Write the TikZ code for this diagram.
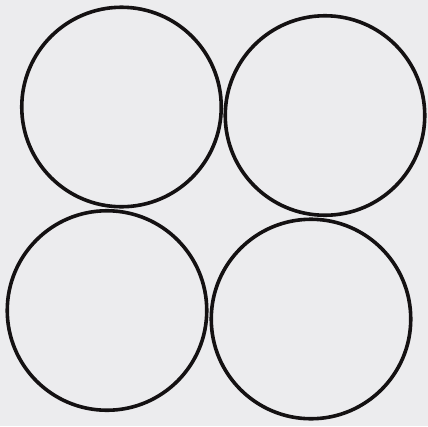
\documentclass[tikz,border=0pt]{standalone}
\definecolor{PaperGray}{HTML}{ECECEE}
\definecolor{InkBlack}{HTML}{141112}

\begin{document}
\begin{tikzpicture}[x=1pt,y=-1pt,
  ring/.style={circle,draw=InkBlack,line width=3.6pt,minimum size=199.5pt,inner sep=0pt}]
  \fill[PaperGray] (0,0) rectangle (428,426);
  \useasboundingbox (0,0) rectangle (428,426);

  \node[ring] (topleft) at (121.5,107) {};
  \node[ring] (topright) at (325,115.5) {};
  \node[ring] (bottomleft) at (107,310.5) {};
  \node[ring] (bottomright) at (311,319) {};
\end{tikzpicture}
\end{document}
